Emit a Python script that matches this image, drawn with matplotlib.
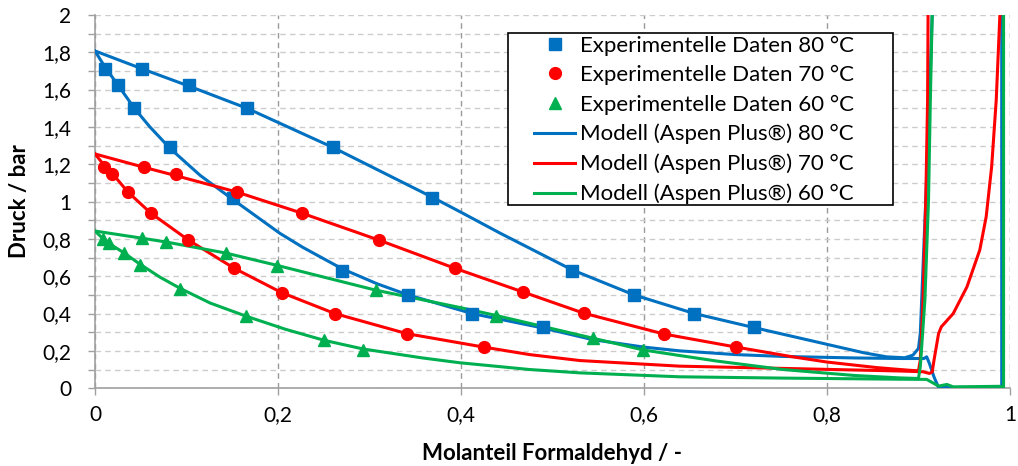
import matplotlib
matplotlib.use('Agg')
import matplotlib.pyplot as plt
from matplotlib.patches import Rectangle
from matplotlib.ticker import MultipleLocator, FuncFormatter

plt.rcParams['font.family'] = ['Lato', 'DejaVu Sans']

BLAU = '#0070C0'
ROT = '#FF0000'
GRUEN = '#00B050'

# --- Experimentelle Daten (x: Molanteil Formaldehyd, p: Druck / bar) ---
x_exp80 = [0.011, 0.025, 0.043, 0.082, 0.151, 0.270, 0.342, 0.412, 0.490,
           0.051, 0.103, 0.166, 0.260, 0.368, 0.521, 0.589, 0.655, 0.720]
p_exp80 = [1.71, 1.625, 1.50, 1.29, 1.02, 0.63, 0.50, 0.40, 0.33,
           1.71, 1.625, 1.50, 1.29, 1.02, 0.63, 0.50, 0.40, 0.33]

x_exp70 = [0.010, 0.019, 0.036, 0.061, 0.102, 0.152, 0.204, 0.262, 0.341, 0.425,
           0.054, 0.089, 0.155, 0.226, 0.310, 0.393, 0.468, 0.534, 0.622, 0.701]
p_exp70 = [1.185, 1.147, 1.051, 0.938, 0.794, 0.643, 0.51, 0.40, 0.29, 0.22,
           1.185, 1.147, 1.051, 0.938, 0.794, 0.643, 0.515, 0.402, 0.29, 0.22]

x_exp60 = [0.009, 0.015, 0.032, 0.049, 0.093, 0.165, 0.250, 0.293,
           0.051, 0.078, 0.143, 0.199, 0.307, 0.438, 0.544, 0.599]
p_exp60 = [0.80, 0.777, 0.724, 0.66, 0.53, 0.386, 0.257, 0.204,
           0.804, 0.783, 0.724, 0.654, 0.525, 0.386, 0.268, 0.204]

# --- Modell (Aspen Plus), zwei Aeste je Temperatur ---
x_mod80_a = [0, 0.051, 0.103, 0.166, 0.260, 0.368, 0.401, 0.443, 0.521, 0.589,
             0.655, 0.720, 0.800, 0.840, 0.865, 0.885, 0.894, 0.900, 0.902, 0.905,
             0.908, 0.912, 0.915, 0.916]
p_mod80_a = [1.807, 1.712, 1.618, 1.50, 1.29, 1.025, 0.94, 0.83, 0.635, 0.50,
             0.40, 0.325, 0.235, 0.19, 0.168, 0.163, 0.177, 0.213, 0.293, 0.65,
             1.01, 1.544, 2.0, 2.2]
x_mod80_b = [0, 0.011, 0.025, 0.043, 0.060, 0.082, 0.115, 0.151, 0.202, 0.227,
             0.270, 0.308, 0.342, 0.412, 0.490, 0.544, 0.600, 0.639, 0.700, 0.752,
             0.830, 0.880, 0.906, 0.909, 0.912, 0.917, 0.922, 0.990, 0.991, 0.991]
p_mod80_b = [1.807, 1.72, 1.625, 1.50, 1.40, 1.285, 1.14, 1.01, 0.83, 0.755,
             0.64, 0.56, 0.50, 0.40, 0.322, 0.26, 0.22, 0.20, 0.18, 0.17,
             0.162, 0.159, 0.159, 0.168, 0.132, 0.06, 0.004, 0.004, 0.004, 2.2]

x_mod70_a = [0, 0.054, 0.089, 0.155, 0.226, 0.310, 0.393, 0.468, 0.534, 0.622,
             0.701, 0.760, 0.800, 0.855, 0.890, 0.900, 0.902, 0.905, 0.908, 0.910,
             0.9105, 0.911]
p_mod70_a = [1.255, 1.183, 1.138, 1.051, 0.938, 0.794, 0.643, 0.515, 0.402, 0.29,
             0.22, 0.17, 0.14, 0.11, 0.096, 0.093, 0.15, 0.47, 1.01, 1.544,
             2.0, 2.2]
x_mod70_b = [0, 0.010, 0.019, 0.036, 0.061, 0.102, 0.152, 0.204, 0.262, 0.341,
             0.425, 0.475, 0.530, 0.639, 0.752, 0.880, 0.905, 0.912, 0.915, 0.917,
             0.922, 0.925, 0.938, 0.953, 0.967, 0.974, 0.980, 0.985, 0.989, 0.990]
p_mod70_b = [1.255, 1.195, 1.15, 1.051, 0.938, 0.794, 0.643, 0.512, 0.40, 0.292,
             0.22, 0.18, 0.148, 0.118, 0.106, 0.092, 0.088, 0.079, 0.087, 0.15,
             0.293, 0.329, 0.40, 0.543, 0.74, 0.918, 1.187, 1.544, 2.0, 2.1]

x_mod60_a = [0, 0.051, 0.078, 0.143, 0.199, 0.307, 0.401, 0.438, 0.544, 0.599,
             0.639, 0.680, 0.752, 0.830, 0.880, 0.900, 0.902, 0.907, 0.911, 0.913,
             0.915, 0.916]
p_mod60_a = [0.842, 0.804, 0.783, 0.724, 0.658, 0.525, 0.43, 0.39, 0.268, 0.205,
             0.175, 0.145, 0.10, 0.068, 0.055, 0.052, 0.114, 0.47, 1.01, 1.544,
             2.0, 2.2]
x_mod60_b = [0, 0.009, 0.015, 0.032, 0.049, 0.071, 0.093, 0.126, 0.165, 0.208,
             0.250, 0.293, 0.358, 0.399, 0.475, 0.530, 0.639, 0.752, 0.880, 0.909,
             0.917, 0.922, 0.931, 0.938, 0.989, 0.993, 0.993]
p_mod60_b = [0.842, 0.80, 0.777, 0.724, 0.665, 0.595, 0.535, 0.456, 0.386, 0.316,
             0.257, 0.21, 0.162, 0.136, 0.10, 0.082, 0.061, 0.054, 0.048, 0.047,
             0.025, 0.011, 0.02, 0.007, 0.01, 0.004, 2.2]


def komma(v, pos):
    s = f"{v:.1f}".rstrip('0').rstrip('.')
    return s.replace('.', ',')


fig = plt.figure(figsize=(10.18, 4.66), dpi=100)
ax = fig.add_axes([0.0933, 0.167, 0.8988, 0.801])

lw = 2.2
# Modelllinien
l80, = ax.plot(x_mod80_a, p_mod80_a, color=BLAU, lw=lw, label='Modell (Aspen Plus®) 80 °C', zorder=3)
ax.plot(x_mod80_b, p_mod80_b, color=BLAU, lw=lw, zorder=3)
l70, = ax.plot(x_mod70_a, p_mod70_a, color=ROT, lw=lw, label='Modell (Aspen Plus®) 70 °C', zorder=3)
ax.plot(x_mod70_b, p_mod70_b, color=ROT, lw=lw, zorder=3)
l60, = ax.plot(x_mod60_a, p_mod60_a, color=GRUEN, lw=lw, label='Modell (Aspen Plus®) 60 °C', zorder=3)
ax.plot(x_mod60_b, p_mod60_b, color=GRUEN, lw=lw, zorder=3)

# Messpunkte
m80, = ax.plot(x_exp80, p_exp80, ls='none', marker='s', ms=8.3, color=BLAU,
               label='Experimentelle Daten 80 °C', zorder=4)
m70, = ax.plot(x_exp70, p_exp70, ls='none', marker='o', ms=8.5, color=ROT,
               label='Experimentelle Daten 70 °C', zorder=4)
m60, = ax.plot(x_exp60, p_exp60, ls='none', marker='^', ms=8.5, color=GRUEN,
               label='Experimentelle Daten 60 °C', zorder=4)

ax.set_xlim(0, 1)
ax.set_ylim(0, 2)
ax.xaxis.set_major_locator(MultipleLocator(0.2))
ax.yaxis.set_major_locator(MultipleLocator(0.2))
ax.yaxis.set_minor_locator(MultipleLocator(0.1))
ax.xaxis.set_major_formatter(FuncFormatter(komma))
ax.yaxis.set_major_formatter(FuncFormatter(komma))

ax.grid(axis='y', which='both', ls=(0, (4, 3)), color='#cccccc', lw=1.0)
ax.grid(axis='x', which='major', ls=(0, (4, 3)), color='#9a9a9a', lw=1.0)
ax.set_axisbelow(True)

for s in ['top', 'right']:
    ax.spines[s].set_visible(False)
for s in ['left', 'bottom']:
    ax.spines[s].set_color('#a0a0a0')
    ax.spines[s].set_linewidth(1.2)
ax.tick_params(axis='both', which='both', direction='out', length=5, color='#a0a0a0',
               labelsize=15, labelcolor='black', width=1.0)
ax.tick_params(axis='x', pad=7)
ax.tick_params(axis='y', pad=12)

ax.set_xlabel('Molanteil Formaldehyd / -', fontsize=16, fontweight='bold', labelpad=13)
ax.set_ylabel('Druck / bar', fontsize=16, fontweight='bold', labelpad=9)

# Legendenrahmen von Hand (Excel-artig, breiter linker Rand)
rahmen = Rectangle((0.4514, 0.4906), 0.4207, 0.4611, transform=ax.transAxes,
                   facecolor='white', edgecolor='black', lw=1.2, zorder=5)
ax.add_patch(rahmen)
leg = ax.legend(handles=[m80, m70, m60, l80, l70, l60], loc='upper left',
                bbox_to_anchor=(0.4798, 0.945), borderaxespad=0, borderpad=0,
                fontsize=16, frameon=False, handlelength=1.85,
                handletextpad=0.22, labelspacing=0.42)
leg.set_zorder(6)

fig.savefig('out.png', dpi=100)
